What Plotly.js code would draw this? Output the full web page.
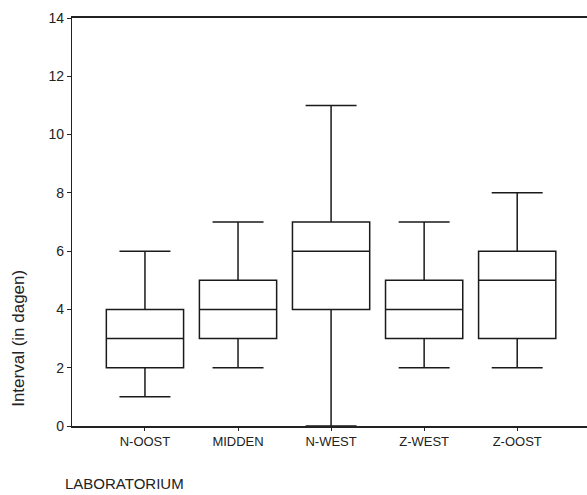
<!DOCTYPE html>
<html>
<head>
<meta charset="utf-8">
<script src="https://cdn.plot.ly/plotly-3.0.1.min.js"></script>
<style>html,body{margin:0;padding:0;background:#fff;}#chart{width:587px;height:495px;}</style>
</head>
<body>
<div id="chart"></div>
<script>
const categories = ["N-OOST", "MIDDEN", "N-WEST", "Z-WEST", "Z-OOST"];
const lowerWhisker = [1, 2, 0, 2, 2];
const q1Values = [2, 3, 4, 3, 3];
const medianValues = [3, 4, 6, 4, 5];
const q3Values = [4, 5, 7, 5, 6];
const upperWhisker = [6, 7, 11, 7, 8];
const yTicks = [0, 2, 4, 6, 8, 10, 12, 14];

const trace = {
  type: "box",
  x: categories,
  q1: q1Values,
  median: medianValues,
  q3: q3Values,
  lowerfence: lowerWhisker,
  upperfence: upperWhisker,
  fillcolor: "#ffffff",
  line: {color: "#1a1a1a", width: 1.5},
  whiskerwidth: 0.66,
  boxpoints: false,
  hoverinfo: "skip",
  showlegend: false
};

const layout = {
  width: 587, height: 495,
  margin: {l: 72, r: 0, t: 18, b: 69},
  paper_bgcolor: "#ffffff",
  plot_bgcolor: "#ffffff",
  boxgap: 0.17,
  boxgroupgap: 0,
  font: {family: "Liberation Sans, Arial, sans-serif", color: "#222", size: 12},
  xaxis: {
    type: "category",
    range: [-0.784, 4.75],
    showgrid: false, zeroline: false,
    showline: true, mirror: true, linecolor: "#222", linewidth: 1.6,
    ticks: "outside", ticklen: 3, tickcolor: "#222",
    tickfont: {size: 13, color: "#222"}
  },
  yaxis: {
    range: [0, 14],
    tickvals: yTicks,
    showgrid: false, zeroline: false,
    showline: true, linecolor: "#222", linewidth: 1.2,
    ticks: "outside", ticklen: 4, tickcolor: "#222",
    tickfont: {size: 14, color: "#222"}
  },
  annotations: [
    {text: "Interval (in dagen)", xref: "paper", yref: "paper",
     x: -0.103, y: 0.216, textangle: -90, showarrow: false,
     xanchor: "center", yanchor: "middle", font: {size: 17, color: "#222"}},
    {text: "LABORATORIUM", xref: "paper", yref: "paper",
     x: -0.017, y: -0.14, showarrow: false,
     xanchor: "left", yanchor: "middle", font: {size: 15, color: "#222"}}
  ]
};

Plotly.newPlot("chart", [trace], layout, {staticPlot: true, displayModeBar: false});
</script>
</body>
</html>
